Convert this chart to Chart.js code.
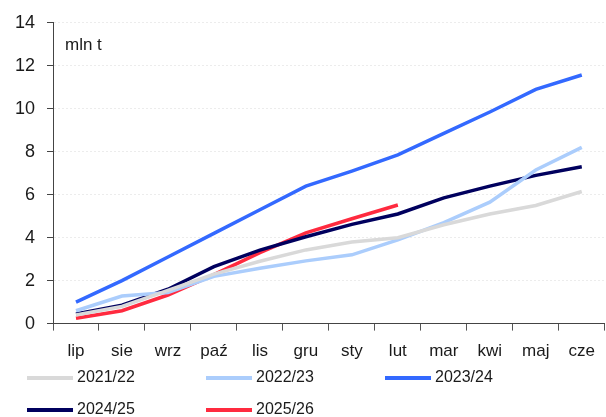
<!DOCTYPE html>
<html>
<head>
<meta charset="utf-8">
<script src="https://cdn.jsdelivr.net/npm/chart.js@4"></script>
<style>
  html, body { margin: 0; padding: 0; background: #fff; }
  #wrap { width: 606px; height: 417px; position: relative; }
</style>
</head>
<body>
<div id="wrap"><canvas id="c" width="606" height="417"></canvas></div>
<script>
const categories = ["lip", "sie", "wrz", "paź", "lis", "gru", "sty", "lut", "mar", "kwi", "maj", "cze"];
const seriesNames = ["2021/22", "2022/23", "2023/24", "2024/25", "2025/26"];
const s2021_22 = [0.40, 0.80, 1.55, 2.30, 2.90, 3.43, 3.80, 4.00, 4.60, 5.10, 5.50, 6.15];
const s2022_23 = [0.60, 1.28, 1.45, 2.20, 2.58, 2.92, 3.20, 3.90, 4.70, 5.65, 7.15, 8.20];
const s2023_24 = [1.00, 2.00, 3.10, 4.20, 5.30, 6.40, 7.10, 7.85, 8.85, 9.85, 10.90, 11.57];
const s2024_25 = [0.45, 0.86, 1.60, 2.65, 3.42, 4.04, 4.62, 5.10, 5.85, 6.40, 6.90, 7.30];
const s2025_26 = [0.25, 0.60, 1.33, 2.28, 3.30, 4.22, 4.88, 5.52];
const yTicks = [0, 2, 4, 6, 8, 10, 12, 14];
const unitLabel = "mln t";

const colors = ["#d9d9d9", "#abcdfc", "#3369ff", "#00005e", "#ff2a3f"];
const seriesData = [s2021_22, s2022_23, s2023_24, s2024_25, s2025_26];

const FONT = "'Liberation Sans', Arial, sans-serif";

const unitPlugin = {
  id: 'unitLabel',
  afterDraw(chart) {
    const ctx = chart.ctx;
    ctx.save();
    ctx.fillStyle = '#1a1a1a';
    ctx.font = "17px " + FONT;
    ctx.textAlign = 'left';
    ctx.textBaseline = 'middle';
    ctx.fillText(unitLabel, chart.chartArea.left + 12, 45);
    ctx.restore();
  }
};

const legendPlugin = {
  id: 'gridLegend',
  afterDraw(chart) {
    const ctx = chart.ctx;
    ctx.save();
    ctx.font = "16px " + FONT;
    ctx.textAlign = 'left';
    ctx.textBaseline = 'middle';
    const colX = [27, 206, 385];
    const rowY = [378, 410];
    chart.data.datasets.forEach((ds, i) => {
      const col = i % 3, row = Math.floor(i / 3);
      const x = colX[col], y = rowY[row];
      ctx.strokeStyle = ds.borderColor;
      ctx.lineWidth = 4;
      ctx.beginPath();
      ctx.moveTo(x, y);
      ctx.lineTo(x + 46, y);
      ctx.stroke();
      ctx.fillStyle = '#1a1a1a';
      ctx.fillText(ds.label, x + 50, y);
    });
    ctx.restore();
  }
};

new Chart(document.getElementById('c'), {
  type: 'line',
  data: {
    labels: categories,
    datasets: seriesNames.map((name, i) => ({
      label: name,
      data: seriesData[i],
      borderColor: colors[i],
      backgroundColor: colors[i],
      borderWidth: 3.5,
      pointRadius: 0,
      tension: 0,
      fill: false
    }))
  },
  options: {
    responsive: false,
    animation: false,
    devicePixelRatio: 1,
    layout: { padding: { top: 6, right: -3, bottom: 44, left: 0 } },
    plugins: {
      legend: { display: false },
      tooltip: { enabled: false }
    },
    scales: {
      x: {
        offset: true,
        grid: { offset: true, drawOnChartArea: false, tickLength: 7, tickColor: '#555', tickWidth: 1 },
        border: { display: true, color: '#444', width: 1 },
        ticks: { color: '#1a1a1a', font: { family: FONT, size: 17 }, padding: 11, maxRotation: 0, autoSkip: false }
      },
      y: {
        min: 0, max: 14,
        afterBuildTicks(scale) { scale.ticks = yTicks.map(v => ({ value: v })); },
        afterFit(scale) { scale.width = 53; },
        grid: { color: '#ececec', lineWidth: 1, tickLength: 6, tickColor: '#444', tickBorderDash: [], drawTicks: true },
        border: { display: true, color: '#444', width: 1, dash: [2, 2] },
        ticks: { color: '#1a1a1a', font: { family: FONT, size: 18 }, padding: 12 }
      }
    }
  },
  plugins: [unitPlugin, legendPlugin]
});
</script>
</body>
</html>
